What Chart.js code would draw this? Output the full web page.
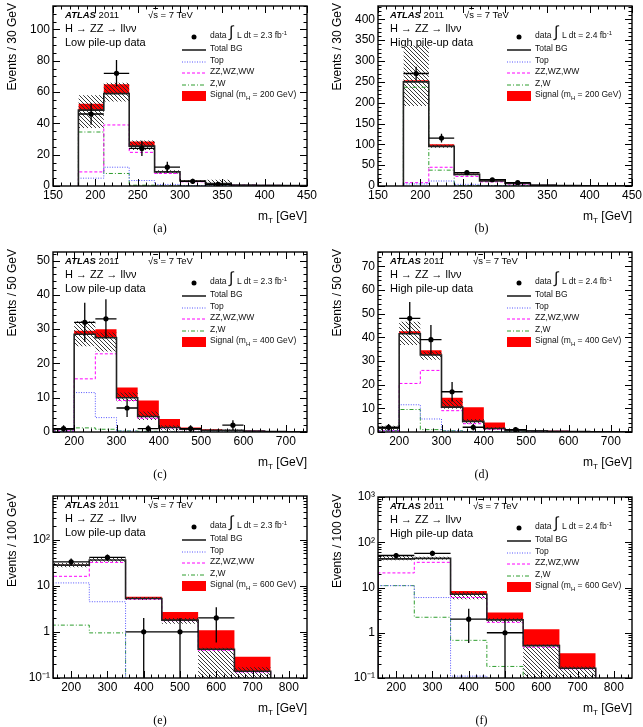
<!DOCTYPE html>
<html>
<head>
<meta charset="utf-8">
<script src="https://cdn.jsdelivr.net/npm/chart.js@4.4.1/dist/chart.umd.min.js"></script>
<style>
  html, body { margin: 0; padding: 0; background: #fff; }
  #page { position: relative; width: 643px; height: 727px; overflow: hidden;
          font-family: 'Liberation Sans', Arial, Helvetica, sans-serif; color: #000; }
  .box { position: absolute; }
  .txt { position: absolute; white-space: nowrap; line-height: 12px; }
  .ytitle { position: absolute; white-space: nowrap; font-size: 12px; line-height: 14px;
            transform: rotate(-90deg); transform-origin: right top; }
  .xtitle { position: absolute; white-space: nowrap; font-size: 12px; line-height: 14px; }
  .cap { position: absolute; text-align: center; font-family: 'Liberation Serif', 'DejaVu Serif', serif;
         font-size: 12px; line-height: 14px; }
  .leg { position: absolute; white-space: nowrap; font-size: 8.5px; line-height: 10px; color: #111; }
  .sym { position: absolute; }
  .sub { font-size: 8px; position: relative; top: 3px; }
  .sub2 { font-size: 6px; position: relative; top: 3px; }
  .sup { font-size: 6px; position: relative; top: -3px; }
</style>
</head>
<body>
<div id="page"></div>
<script>
// ==== (a) low pile-up, mH = 200 GeV, 30 GeV bins ====
const edgesA = [180, 210, 240, 270, 300, 330, 360, 390, 420, 450];
const totalA = [48.5, 59, 25.5, 9, 3.2, 1.5, 0.6, 0.4, 0.3];
const bandLoA = [37, 54, 23, 8, 2.6, 0.2, 0.4, 0.3, 0.2];
const bandHiA = [58, 66, 29, 10, 3.8, 4, 0.8, 0.5, 0.4];
const signalA = [4, 6, 3, 0.4, 0.2, 0.1, 0, 0, 0];
const topA = [5, 12, 3.5, 1, 0.3, 0.1, 0, 0, 0];
const dibosonA = [9, 39, 21.5, 8, 2.7, 1.3, 0.6, 0.4, 0.3];
const zwA = [34.5, 8, 0.5, 0.1, 0, 0, 0, 0, 0];
const dataXA = [195, 225, 255, 285, 315, 345];
const dataYA = [46, 72, 24, 12, 3, 1];
const dataErrA = [6.8, 8.5, 4.9, 3.5, 1.7, 1];
const xTicksA = [150, 200, 250, 300, 350, 400, 450];
const yTicksA = [0, 20, 40, 60, 80, 100];

// ==== (b) high pile-up, mH = 200 GeV ====
const edgesB = [180, 210, 240, 270, 300, 330, 360, 390, 420, 450];
const totalB = [250, 95, 28, 12, 6, 2, 1, 0.5, 0.3];
const bandLoB = [192, 92, 26, 11, 5.5, 1.8, 0.9, 0.4, 0.2];
const bandHiB = [337, 99, 30, 13, 6.5, 2.2, 1.1, 0.6, 0.4];
const signalB = [4, 5, 1.5, 0.5, 0.2, 0.1, 0, 0, 0];
const topB = [5, 12, 4, 1, 0.3, 0.1, 0, 0, 0];
const dibosonB = [8, 45, 23, 10, 4.5, 1.6, 0.8, 0.4, 0.2];
const zwB = [237, 38, 1, 1, 1.2, 0.3, 0.2, 0.1, 0.1];
const dataXB = [195, 225, 255, 285, 315];
const dataYB = [270, 115, 32, 15, 8];
const dataErrB = [16.4, 10.7, 5.7, 3.9, 2.8];
const xTicksB = [150, 200, 250, 300, 350, 400, 450];
const yTicksB = [0, 50, 100, 150, 200, 250, 300, 350, 400];

// ==== (c) low pile-up, mH = 400 GeV, 50 GeV bins ====
const edgesC = [150, 200, 250, 300, 350, 400, 450, 500, 550, 600, 650, 700, 750];
const totalC = [0.8, 28.5, 27.5, 10, 4.5, 1.3, 0.8, 0.5, 0.5, 0.3, 0.1, 0.05];
const bandLoC = [0.4, 25, 23.5, 9, 3.5, 0.5, 0.5, 0.3, 0.3, 0.2, 0.05, 0];
const bandHiC = [1.2, 32.3, 29, 11.5, 6, 2, 1.1, 0.7, 0.7, 0.4, 0.15, 0.1];
const signalC = [0, 1, 2.5, 3, 4.7, 2.5, 0.5, 0.3, 0.1, 0.05, 0, 0];
const topC = [0.2, 11.5, 4.2, 0.3, 0.1, 0.05, 0, 0, 0, 0, 0, 0];
const dibosonC = [0.3, 15.5, 22.8, 9.2, 4, 1.2, 0.7, 0.45, 0.45, 0.3, 0.1, 0.05];
const zwC = [0.3, 1.2, 0.8, 0.3, 0.2, 0.05, 0, 0, 0, 0, 0, 0];
const dataXC = [175, 225, 275, 325, 375, 475, 575];
const dataYC = [1, 32, 33, 7, 1, 1, 2];
const dataErrC = [1, 5.7, 5.7, 2.6, 1, 1, 1.4];
const xTicksC = [200, 300, 400, 500, 600, 700];
const yTicksC = [0, 10, 20, 30, 40, 50];

// ==== (d) high pile-up, mH = 400 GeV ====
const edgesD = [150, 200, 250, 300, 350, 400, 450, 500, 550, 600, 650, 700, 750];
const totalD = [1.6, 41.5, 32.5, 10.5, 4.5, 1.5, 0.8, 0.5, 0.3, 0.2, 0.1, 0.05];
const bandLoD = [0.6, 36.7, 30.5, 9.8, 3.5, 1, 0.6, 0.3, 0.2, 0.1, 0.05, 0];
const bandHiD = [2.6, 46.6, 34, 13.5, 5.5, 2, 1, 0.7, 0.4, 0.3, 0.15, 0.1];
const signalD = [0, 1, 2, 4, 6, 2.5, 0.4, 0.3, 0.2, 0.1, 0.05, 0];
const topD = [0.5, 11.5, 5.5, 0.5, 0.2, 0.1, 0, 0, 0, 0, 0, 0];
const dibosonD = [0.5, 20.5, 26, 9, 3.5, 1.2, 0.7, 0.45, 0.3, 0.2, 0.1, 0.05];
const zwD = [0.6, 9.5, 1, 0.5, 0.2, 0.1, 0.05, 0, 0, 0, 0, 0];
const dataXD = [175, 225, 275, 325, 375, 475];
const dataYD = [2, 48, 39, 17, 2, 1];
const dataErrD = [1.4, 6.9, 6.2, 4.1, 1.4, 1];
const xTicksD = [200, 300, 400, 500, 600, 700];
const yTicksD = [0, 10, 20, 30, 40, 50, 60, 70];

// ==== (e) low pile-up, mH = 600 GeV, 100 GeV bins, log y ====
const edgesE = [150, 250, 350, 450, 550, 650, 750];
const totalE = [28, 36, 5.3, 1.8, 0.42, 0.14];
const bandLoE = [25, 33, 4.9, 1.5, 0, 0.1];
const bandHiE = [31, 40, 5.7, 2.0, 0.45, 0.17];
const signalE = [0.3, 0.3, 0.45, 0.9, 0.67, 0.15];
const topE = [11.5, 4.5, 0, 0, 0, 0];
const dibosonE = [16, 32, 5.1, 1.75, 0.4, 0.135];
const zwE = [1.4, 0.95, 0, 0, 0, 0];
const dataXE = [200, 300, 400, 500, 600];
const dataYE = [33, 41, 1, 1, 2];
const dataErrE = [5.7, 6.4, 1, 1, 1.41];
const xTicksE = [200, 300, 400, 500, 600, 700, 800];
const yTicksE = [0.1, 1, 10, 100];

// ==== (f) high pile-up, mH = 600 GeV, log y ====
const edgesF = [150, 250, 350, 450, 550, 650, 750];
const totalF = [43, 44, 7.1, 1.93, 0.52, 0.164];
const bandLoF = [40, 41, 5.5, 1.7, 0, 0.1];
const bandHiF = [50, 48, 8, 2.1, 0.55, 0.18];
const signalF = [0.5, 0.8, 1.3, 0.87, 0.67, 0.19];
const topF = [11, 6, 0.11, 0, 0, 0];
const dibosonF = [21, 36, 6, 1.7, 0.48, 0.16];
const zwF = [11, 2.2, 0.68, 0.18, 0, 0];
const dataXF = [200, 300, 400, 500];
const dataYF = [51, 57, 2, 1];
const dataErrF = [7.1, 7.5, 1.41, 1];
const xTicksF = [200, 300, 400, 500, 600, 700, 800];
const yTicksF = [0.1, 1, 10, 100, 1000];

// ==== Panel setup ====
const panels = [
  { cap: '(a)', box: [0, 0, 320, 240], plot: [53, 6, 307, 186], x: [150, 450], y: [0, 115], log: false,
    xMinor: 10, yMinor: 5, half: 15, edges: edgesA, total: totalA, bandLo: bandLoA, bandHi: bandHiA,
    signal: signalA, top: topA, diboson: dibosonA, zw: zwA, dx: dataXA, dy: dataYA, de: dataErrA,
    xTicks: xTicksA, yTicks: yTicksA, yTitle: 'Events / 30 GeV', pileup: 'Low pile-up data',
    lumi: '2.3', mass: '200', sqrtX: 95 },
  { cap: '(b)', box: [320, 0, 323, 240], plot: [378, 6, 632, 186], x: [150, 450], y: [0, 432], log: false,
    xMinor: 10, yMinor: 10, half: 15, edges: edgesB, total: totalB, bandLo: bandLoB, bandHi: bandHiB,
    signal: signalB, top: topB, diboson: dibosonB, zw: zwB, dx: dataXB, dy: dataYB, de: dataErrB,
    xTicks: xTicksB, yTicks: yTicksB, yTitle: 'Events / 30 GeV', pileup: 'High pile-up data',
    lumi: '2.4', mass: '200', sqrtX: 86 },
  { cap: '(c)', box: [0, 240, 320, 245], plot: [53, 252, 307, 432], x: [150, 750], y: [0, 52.5], log: false,
    xMinor: 20, yMinor: 2, half: 25, edges: edgesC, total: totalC, bandLo: bandLoC, bandHi: bandHiC,
    signal: signalC, top: topC, diboson: dibosonC, zw: zwC, dx: dataXC, dy: dataYC, de: dataErrC,
    xTicks: xTicksC, yTicks: yTicksC, yTitle: 'Events / 50 GeV', pileup: 'Low pile-up data',
    lumi: '2.3', mass: '400', sqrtX: 95 },
  { cap: '(d)', box: [320, 240, 323, 245], plot: [378, 252, 632, 432], x: [150, 750], y: [0, 76], log: false,
    xMinor: 20, yMinor: 2, half: 25, edges: edgesD, total: totalD, bandLo: bandLoD, bandHi: bandHiD,
    signal: signalD, top: topD, diboson: dibosonD, zw: zwD, dx: dataXD, dy: dataYD, de: dataErrD,
    xTicks: xTicksD, yTicks: yTicksD, yTitle: 'Events / 50 GeV', pileup: 'High pile-up data',
    lumi: '2.4', mass: '400', sqrtX: 95 },
  { cap: '(e)', box: [0, 485, 320, 242], plot: [53, 496, 307, 678], x: [150, 850], y: [0.1, 880], log: true,
    xMinor: 20, yMinor: 0, half: 50, edges: edgesE, total: totalE, bandLo: bandLoE, bandHi: bandHiE,
    signal: signalE, top: topE, diboson: dibosonE, zw: zwE, dx: dataXE, dy: dataYE, de: dataErrE,
    xTicks: xTicksE, yTicks: yTicksE, yTitle: 'Events / 100 GeV', pileup: 'Low pile-up data',
    lumi: '2.3', mass: '600', sqrtX: 95 },
  { cap: '(f)', box: [320, 485, 323, 242], plot: [378, 497, 632, 678], x: [150, 850], y: [0.1, 1000], log: true,
    xMinor: 20, yMinor: 0, half: 50, edges: edgesF, total: totalF, bandLo: bandLoF, bandHi: bandHiF,
    signal: signalF, top: topF, diboson: dibosonF, zw: zwF, dx: dataXF, dy: dataYF, de: dataErrF,
    xTicks: xTicksF, yTicks: yTicksF, yTitle: 'Events / 100 GeV', pileup: 'High pile-up data',
    lumi: '2.4', mass: '600', sqrtX: 95 }
];

Chart.defaults.font.family = "'Liberation Sans', Arial, Helvetica, sans-serif";
Chart.defaults.font.size = 12;
Chart.defaults.color = '#000';

const page = document.getElementById('page');
function el(cls, css, html) {
  const d = document.createElement('div');
  d.className = cls;
  Object.assign(d.style, css);
  if (html != null) d.innerHTML = html;
  page.appendChild(d);
  return d;
}

// hatch tile for the background uncertainty band
const tile = document.createElement('canvas');
tile.width = 4; tile.height = 4;
(function () {
  const g = tile.getContext('2d');
  g.strokeStyle = '#222';
  g.lineWidth = 0.9;
  g.beginPath();
  g.moveTo(-1, -1); g.lineTo(5, 5);
  g.moveTo(-1, 3); g.lineTo(1, 5);
  g.moveTo(3, -1); g.lineTo(5, 1);
  g.stroke();
})();

// step histogram as points on the bin edges
function histPoints(edges, vals, floor, drop) {
  const pts = [];
  if (drop) pts.push({ x: edges[0], y: floor });
  vals.forEach((v, i) => pts.push({ x: edges[i], y: Math.max(v, floor) }));
  pts.push({ x: edges[edges.length - 1], y: Math.max(vals[vals.length - 1], floor) });
  if (drop) pts.push({ x: edges[edges.length - 1], y: floor });
  return pts;
}

// error bars as line segments separated by gaps
function errorBars(xs, ys, err, half, floor) {
  const pts = [];
  xs.forEach((x, i) => {
    pts.push({ x, y: Math.max(ys[i] - err[i], floor) }, { x, y: ys[i] + err[i] }, { x, y: null });
    pts.push({ x: x - half, y: ys[i] }, { x: x + half, y: ys[i] }, { x: x + half, y: null });
  });
  return pts;
}

const logLabel = v => ({ 0.1: '10⁻¹', 1: '1', 10: '10', 100: '10²', 1000: '10³' })[v] || '';

// frame with inward ticks on all four sides (ROOT style)
const framePlugin = {
  id: 'frame',
  afterDatasetsDraw(chart, args, opts) {
    const { ctx, chartArea: a } = chart;
    const xs = chart.scales.x, ys = chart.scales.y;
    const near = (list, v) => list.some(m => Math.abs(m - v) < 1e-6 * Math.max(1, Math.abs(v)));
    ctx.save();
    ctx.strokeStyle = '#000';
    ctx.lineWidth = 1;
    ctx.beginPath();
    const xMaj = xs.ticks.map(t => t.value);
    const x0 = Math.ceil(xs.min / opts.xMinor) * opts.xMinor;
    for (let i = 0; x0 + i * opts.xMinor <= xs.max + 1e-6; i++) {
      const v = x0 + i * opts.xMinor;
      const len = near(xMaj, v) ? 7 : 3.5;
      const px = Math.round(xs.getPixelForValue(v)) + 0.5;
      ctx.moveTo(px, a.bottom); ctx.lineTo(px, a.bottom - len);
      ctx.moveTo(px, a.top); ctx.lineTo(px, a.top + len);
    }
    const yv = [];
    if (opts.log) {
      for (let d = Math.floor(Math.log10(ys.min)); d <= Math.ceil(Math.log10(ys.max)); d++) {
        for (let k = 1; k < 10; k++) {
          const v = k * Math.pow(10, d);
          if (v >= ys.min * 0.999 && v <= ys.max * 1.001) yv.push([v, k === 1]);
        }
      }
    } else {
      const yMaj = ys.ticks.map(t => t.value);
      for (let i = 0; i * opts.yMinor <= ys.max + 1e-6; i++) {
        const v = ys.min + i * opts.yMinor;
        yv.push([v, near(yMaj, v)]);
      }
    }
    yv.forEach(([v, major]) => {
      const len = major ? 7 : 3.5;
      const py = Math.round(ys.getPixelForValue(v)) + 0.5;
      ctx.moveTo(a.left, py); ctx.lineTo(a.left + len, py);
      ctx.moveTo(a.right, py); ctx.lineTo(a.right - len, py);
    });
    ctx.stroke();
    ctx.lineWidth = 1.4;
    ctx.strokeRect(a.left, a.top, a.right - a.left, a.bottom - a.top);
    ctx.restore();
  }
};

function makePanel(p) {
  const [bx, by, bw, bh] = p.box;
  const [pl, pt, pr, pb] = p.plot;
  const wrap = el('box', { left: bx + 'px', top: by + 'px', width: bw + 'px', height: bh + 'px' });
  const cv = document.createElement('canvas');
  cv.width = bw; cv.height = bh;
  wrap.appendChild(cv);
  const hatch = cv.getContext('2d').createPattern(tile, 'repeat');

  const floor = p.log ? 1e-3 : 0;
  const sigTop = p.total.map((v, i) => v + p.signal[i]);
  const step = (data, color, width, dash, extra) => Object.assign({
    type: 'line', data, borderColor: color, borderWidth: width, borderDash: dash,
    pointRadius: 0, fill: false, stepped: 'before'
  }, extra || {});

  const datasets = [
    step(histPoints(p.edges, p.total, floor, false), 'transparent', 0, []),
    step(histPoints(p.edges, sigTop, floor, false), 'transparent', 0, [], { fill: '-1', backgroundColor: '#ff0000' }),
    step(histPoints(p.edges, p.bandLo, floor, false), 'transparent', 0, []),
    step(histPoints(p.edges, p.bandHi, floor, false), 'transparent', 0, [], { fill: '-1', backgroundColor: hatch }),
    step(histPoints(p.edges, p.zw, floor, true), '#2f9e2f', 1, [4, 2, 1, 2]),
    step(histPoints(p.edges, p.diboson, floor, true), '#ff00ff', 1, [3, 2]),
    step(histPoints(p.edges, p.top, floor, true), '#5555ff', 1, [1, 1.5]),
    step(histPoints(p.edges, p.total, floor, true), '#222', 1.6, []),
    { type: 'line', data: errorBars(p.dx, p.dy, p.de, p.half, floor), borderColor: '#000', borderWidth: 1.3,
      pointRadius: 0, fill: false, spanGaps: false },
    { type: 'line', data: p.dx.map((x, i) => ({ x, y: p.dy[i] })), showLine: false, pointRadius: 2.6,
      pointBackgroundColor: '#000', pointBorderColor: '#000', pointBorderWidth: 0 }
  ];
  datasets.forEach((d, i) => { d.order = datasets.length - i; });

  new Chart(cv, {
    type: 'line',
    data: { datasets },
    plugins: [framePlugin],
    options: {
      responsive: false,
      animation: false,
      events: [],
      layout: { padding: { left: pl - bx - 40, top: pt - by, right: bx + bw - pr, bottom: by + bh - pb - 20 } },
      plugins: {
        legend: { display: false },
        tooltip: { enabled: false },
        frame: { xMinor: p.xMinor, yMinor: p.yMinor, log: p.log }
      },
      scales: {
        x: {
          type: 'linear', min: p.x[0], max: p.x[1],
          afterBuildTicks: s => { s.ticks = p.xTicks.map(v => ({ value: v })); },
          afterFit: s => { s.height = 20; s.paddingLeft = 0; s.paddingRight = 0; },
          grid: { display: false, drawTicks: false }, border: { display: false },
          ticks: { autoSkip: false, maxRotation: 0, minRotation: 0, padding: 2 }
        },
        y: {
          type: p.log ? 'logarithmic' : 'linear', min: p.y[0], max: p.y[1],
          afterBuildTicks: s => { s.ticks = p.yTicks.map(v => ({ value: v })); },
          afterFit: s => { s.width = 40; s.paddingTop = 0; s.paddingBottom = 0; },
          grid: { display: false, drawTicks: false }, border: { display: false },
          ticks: { autoSkip: false, padding: 3, callback: p.log ? logLabel : (v => String(v)) }
        }
      }
    }
  });

  // ---- text and legend ----
  el('ytitle', { right: (643 - (pl - 48)) + 'px', top: (pt - 3) + 'px' }, p.yTitle);
  el('xtitle', { right: (643 - pr) + 'px', top: (pb + 23) + 'px' }, 'm<span class="sub">T</span> [GeV]');
  el('cap', { left: bx + 'px', width: bw + 'px', top: (pb + 35) + 'px' }, p.cap);

  el('txt', { left: (pl + 12) + 'px', top: (pt + 3) + 'px', fontSize: '9.5px' }, '<b><i>ATLAS</i></b> 2011');
  el('txt', { left: (pl + p.sqrtX) + 'px', top: (pt + 3) + 'px', fontSize: '9.5px' },
    '√<span style="text-decoration:overline">s</span> = 7 TeV');
  el('txt', { left: (pl + 12) + 'px', top: (pt + 16) + 'px', fontSize: '11px' }, 'H → ZZ → llνν');
  el('txt', { left: (pl + 12) + 'px', top: (pt + 30) + 'px', fontSize: '11px' }, p.pileup);

  const rows = [29, 42, 53.5, 65, 76.5, 88];
  const svg = inner => '<svg width="26" height="12" xmlns="http://www.w3.org/2000/svg">' + inner + '</svg>';
  const ln = (c, w, dash) => '<line x1="1" y1="6" x2="25" y2="6" stroke="' + c + '" stroke-width="' + w + '"' +
    (dash ? ' stroke-dasharray="' + dash + '"' : '') + '/>';
  const syms = [
    '<circle cx="13" cy="6" r="2.5" fill="#000"/>',
    ln('#222', 1.6),
    ln('#5555ff', 1, '1 1.5'),
    ln('#ff00ff', 1, '3 2'),
    ln('#2f9e2f', 1, '4 2 1 2'),
    '<rect x="1" y="1" width="24" height="10" fill="#ff0000"/>'
  ];
  const labels = [
    'data',
    'Total BG',
    'Top',
    'ZZ,WZ,WW',
    'Z,W',
    'Signal (m<span class="sub2">H</span> = ' + p.mass + ' GeV)'
  ];
  rows.forEach((ry, i) => {
    el('sym', { left: (pl + 128) + 'px', top: (pt + ry - 6) + 'px' }, svg(syms[i]));
    el('leg', { left: (pl + 157) + 'px', top: (pt + ry - 5) + 'px' }, labels[i]);
  });
  el('leg', { left: (pl + 176) + 'px', top: (pt + 17) + 'px', fontSize: '16px', lineHeight: '18px' }, '∫');
  el('leg', { left: (pl + 184) + 'px', top: (pt + rows[0] - 5) + 'px' },
    'L dt = ' + p.lumi + ' fb<span class="sup">-1</span>');
}

panels.forEach(makePanel);
</script>
</body>
</html>
